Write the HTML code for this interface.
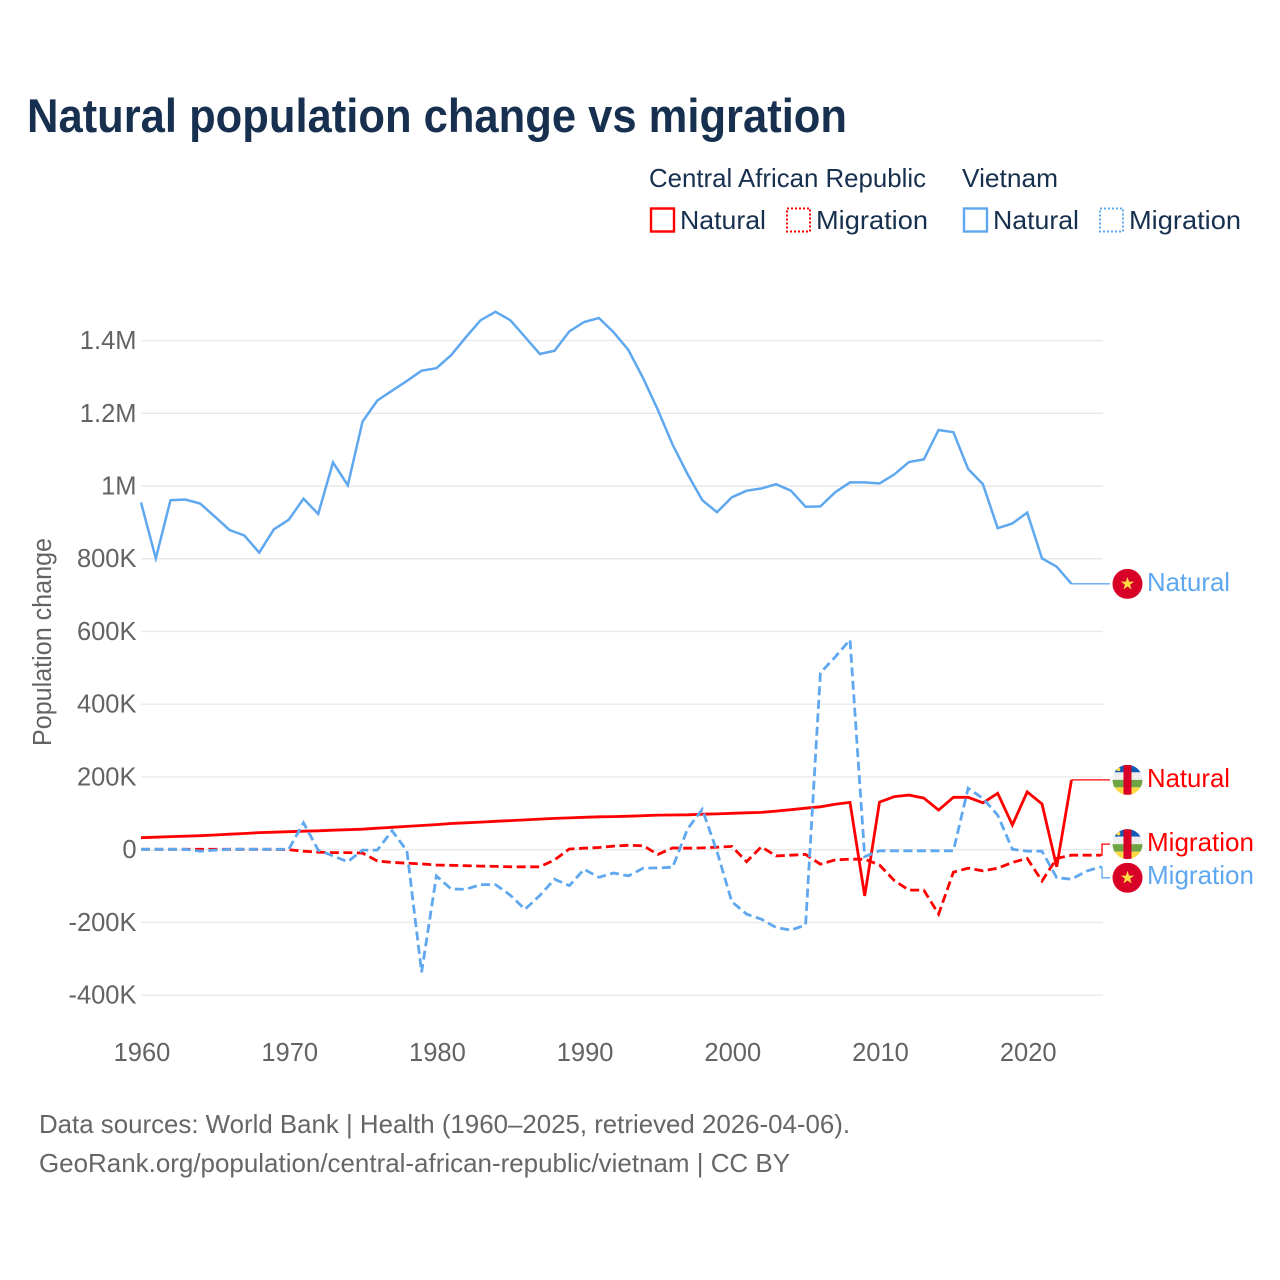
<!DOCTYPE html>
<html lang="en">
<head>
<meta charset="utf-8">
<title>Natural population change vs migration</title>
<style>
html,body{margin:0;padding:0;background:#fff;width:1280px;height:1280px;overflow:hidden}
svg{display:block}
text{font-family:"Liberation Sans",Arial,sans-serif}
.tick{font-size:25.5px;fill:#636363}
.leg{font-size:26px;fill:#17304f}
.foot{font-size:26px;fill:#666}
.end{font-size:26px}
</style>
</head>
<body>
<svg id="chart" xmlns="http://www.w3.org/2000/svg" width="1280" height="1280" viewBox="0 0 1280 1280">
  <defs>
    <clipPath id="flag-clip"><circle cx="0" cy="0" r="15"/></clipPath>
    <g id="flag-car" clip-path="url(#flag-clip)">
      <rect x="-15" y="-15" width="30" height="7.5" fill="#0f5bb5"/>
      <rect x="-15" y="-7.5" width="30" height="7.5" fill="#eeeeee"/>
      <rect x="-15" y="0" width="30" height="7.5" fill="#6da544"/>
      <rect x="-15" y="7.5" width="30" height="7.5" fill="#ffda44"/>
      <rect x="-4" y="-15" width="8" height="30" fill="#d80027"/>
      <circle cx="-9" cy="-10.5" r="1.8" fill="#ffda44"/>
    </g>
    <g id="flag-vn" clip-path="url(#flag-clip)">
      <rect x="-15" y="-15" width="30" height="30" fill="#d80027"/>
      <polygon points="0,-7 1.6,-2.2 6.7,-2.2 2.6,0.8 4.1,5.7 0,2.7 -4.1,5.7 -2.6,0.8 -6.7,-2.2 -1.6,-2.2" fill="#ffda44"/>
    </g>
  </defs>

  <text x="27" y="132" font-size="47" font-weight="700" fill="#17304f" textLength="820" lengthAdjust="spacingAndGlyphs">Natural population change vs migration</text>

  <g>
    <text class="leg" x="649" y="187" textLength="277" lengthAdjust="spacingAndGlyphs">Central African Republic</text>
    <text class="leg" x="962" y="187" textLength="96" lengthAdjust="spacingAndGlyphs">Vietnam</text>
    <g>
      <rect x="651" y="208.5" width="23" height="23" fill="none" stroke="#ff0000" stroke-width="2.4"/>
      <text class="leg" x="680" y="229" textLength="86" lengthAdjust="spacingAndGlyphs">Natural</text>
    </g>
    <g>
      <rect x="787" y="208.5" width="23" height="23" fill="none" stroke="#ff0000" stroke-width="2" stroke-dasharray="2 2"/>
      <text class="leg" x="816" y="229" textLength="112" lengthAdjust="spacingAndGlyphs">Migration</text>
    </g>
    <g>
      <rect x="964" y="208.5" width="23" height="23" fill="none" stroke="#5fa8ef" stroke-width="2.4"/>
      <text class="leg" x="993" y="229" textLength="86" lengthAdjust="spacingAndGlyphs">Natural</text>
    </g>
    <g>
      <rect x="1100" y="208.5" width="23" height="23" fill="none" stroke="#5fa8ef" stroke-width="2" stroke-dasharray="2 2"/>
      <text class="leg" x="1129" y="229" textLength="112" lengthAdjust="spacingAndGlyphs">Migration</text>
    </g>
  </g>

  <text class="tick" transform="translate(51,642) rotate(-90)" text-anchor="middle" textLength="208" lengthAdjust="spacingAndGlyphs">Population change</text>

  <g id="grid"></g>
  <g id="y-ticks"></g>
  <g id="x-ticks"></g>
  <g id="series"></g>
  <g id="ends"></g>

  <g>
    <text class="foot" x="39" y="1133" textLength="811" lengthAdjust="spacingAndGlyphs">Data sources: World Bank | Health (1960–2025, retrieved 2026-04-06).</text>
    <text class="foot" x="39" y="1172" textLength="751" lengthAdjust="spacingAndGlyphs">GeoRank.org/population/central-african-republic/vietnam | CC BY</text>
  </g>
</svg>

<script>
const years = [
  1960,1961,1962,1963,1964,1965,1966,1967,1968,1969,
  1970,1971,1972,1973,1974,1975,1976,1977,1978,1979,
  1980,1981,1982,1983,1984,1985,1986,1987,1988,1989,
  1990,1991,1992,1993,1994,1995,1996,1997,1998,1999,
  2000,2001,2002,2003,2004,2005,2006,2007,2008,2009,
  2010,2011,2012,2013,2014,2015,2016,2017,2018,2019,
  2020,2021,2022,2023,2024,2025
];
const vietnamNatural = [
  955,801,961,963,952,916,879,864,817,881,
  907,965,923,1065,1002,1177,1235,1262,1289,1317,
  1324,1360,1409,1456,1479,1456,1410,1363,1372,1425,
  1451,1462,1423,1374,1296,1209,1113,1033,961,928,
  969,987,993,1005,987,943,944,983,1010,1010,
  1007,1032,1066,1073,1154,1148,1047,1005,884,897,
  927,801,778,731
];
const carNatural = [
  33,34.5,36,37,38.5,40.5,42.5,44.5,47,48,
  49.5,51,52,53.5,55,56.5,59,61.5,64,66.5,
  69,72,74,76,78,80,82,84,86,87.5,
  89,90.5,91,92,93.5,95,95.5,96,97.5,98.5,
  100,101.5,102.5,106,110,114,118,125,130,-127,
  131,146,150,142,109,144,144,129,155,68,
  159,126,-47,192
];
const carMigration = [
  1,1,1,1,1,1,1,1,1,1,
  0,-4,-7,-8,-8,-9,-31,-35,-37,-39,
  -42,-43,-44,-45,-46,-47,-47,-47,-28,2,
  4,6,10,12,11,-13,5,4,5,7,
  9,-33,8,-17,-15,-13,-40,-28,-26,-26,
  -42,-85,-111,-111,-177,-62,-51,-58,-51,-35,
  -24,-86,-24,-15,-15,-15
];
const vietnamMigration = [
  1,1,1,1,-4,-1,1,1,1,1,
  1,74,-1,-17,-33,-1,-1,52,-3,-337,
  -72,-108,-109,-96,-96,-125,-164,-126,-81,-99,
  -54,-76,-64,-72,-51,-50,-48,57,111,-5,
  -143,-177,-191,-214,-221,-207,486,530,577,-19,
  -3,-3,-3,-3,-3,-3,169,141,95,1,
  -4,-4,-77,-81,-59,-47
];
const yTickValues = [1400,1200,1000,800,600,400,200,0,-200,-400];
const yTickLabels = ['1.4M','1.2M','1M','800K','600K','400K','200K','0','-200K','-400K'];
const xTickValues = [1960,1970,1980,1990,2000,2010,2020];
const xTickLabels = ['1960','1970','1980','1990','2000','2010','2020'];

const SVG_NS = 'http://www.w3.org/2000/svg';
const RED = '#ff0000';
const BLUE = '#5fa8ef';

function xScale(year) { return 141 + (year - 1960) * 14.77; }
function yScale(value) { return 849.7 - value * 0.3637; }

function make(tag, parent, attrs) {
  const el = document.createElementNS(SVG_NS, tag);
  for (const key in attrs) el.setAttribute(key, attrs[key]);
  parent.appendChild(el);
  return el;
}

const gridGroup = document.getElementById('grid');
const yTickGroup = document.getElementById('y-ticks');
yTickValues.forEach(function (value, i) {
  const y = yScale(value);
  const line = make('line', gridGroup, { x1: 141, x2: 1103, y1: y, y2: y, stroke: '#e9e9e9', 'stroke-width': 1.4 });
  
  
  const label = make('text', yTickGroup, { class: 'tick', x: 136.5, y: y + 8.5, 'text-anchor': 'end' });
  label.textContent = yTickLabels[i];
  
  
});

const xTickGroup = document.getElementById('x-ticks');
xTickValues.forEach(function (value, i) {
  const label = make('text', xTickGroup, { class: 'tick', x: xScale(value) + 1, y: 1061, 'text-anchor': 'middle' });
  label.textContent = xTickLabels[i];
  
  
});

function linePath(values) {
  return values.map(function (v, i) {
    return (i ? 'L' : 'M') + xScale(years[i]).toFixed(1) + ' ' + yScale(v).toFixed(1);
  }).join(' ');
}

const seriesGroup = document.getElementById('series');
const endGroup = document.getElementById('ends');

function drawSeries(values, color, dash, width, seriesName, labelText, flagId, labelShift, textNudge) {
  const path = make('path', seriesGroup, { d: linePath(values), fill: 'none', stroke: color, 'stroke-width': width, 'stroke-linejoin': 'miter' });
  if (dash) path.setAttribute('stroke-dasharray', dash);
  
  

  const endX = xScale(years[values.length - 1]);
  const endY = yScale(values[values.length - 1]);
  const labelY = endY + labelShift;
  const connector = make('path', endGroup, { d: 'M' + endX + ' ' + endY + ' H1102 V' + labelY + ' H1110', fill: 'none', stroke: color, 'stroke-width': 1.3 });
  
  

  const flag = make('use', endGroup, { href: '#' + flagId, x: 1127.5, y: labelY });
  
  

  const label = make('text', endGroup, { class: 'end', x: 1147, y: labelY + 7 + textNudge, fill: color, textLength: labelText === 'Natural' ? 83 : 107, lengthAdjust: 'spacingAndGlyphs' });
  label.textContent = labelText;
  
  
}

drawSeries(vietnamNatural, BLUE, null, 2.5, 'vietnam-natural', 'Natural', 'flag-vn', 0, 0);
drawSeries(carNatural, RED, null, 2.8, 'car-natural', 'Natural', 'flag-car', 0, 0);
drawSeries(carMigration, RED, '9 4.5', 2.8, 'car-migration', 'Migration', 'flag-car', -11, 0);
drawSeries(vietnamMigration, BLUE, '9 4.5', 2.8, 'vietnam-migration', 'Migration', 'flag-vn', 11, -1);
</script>
</body>
</html>
